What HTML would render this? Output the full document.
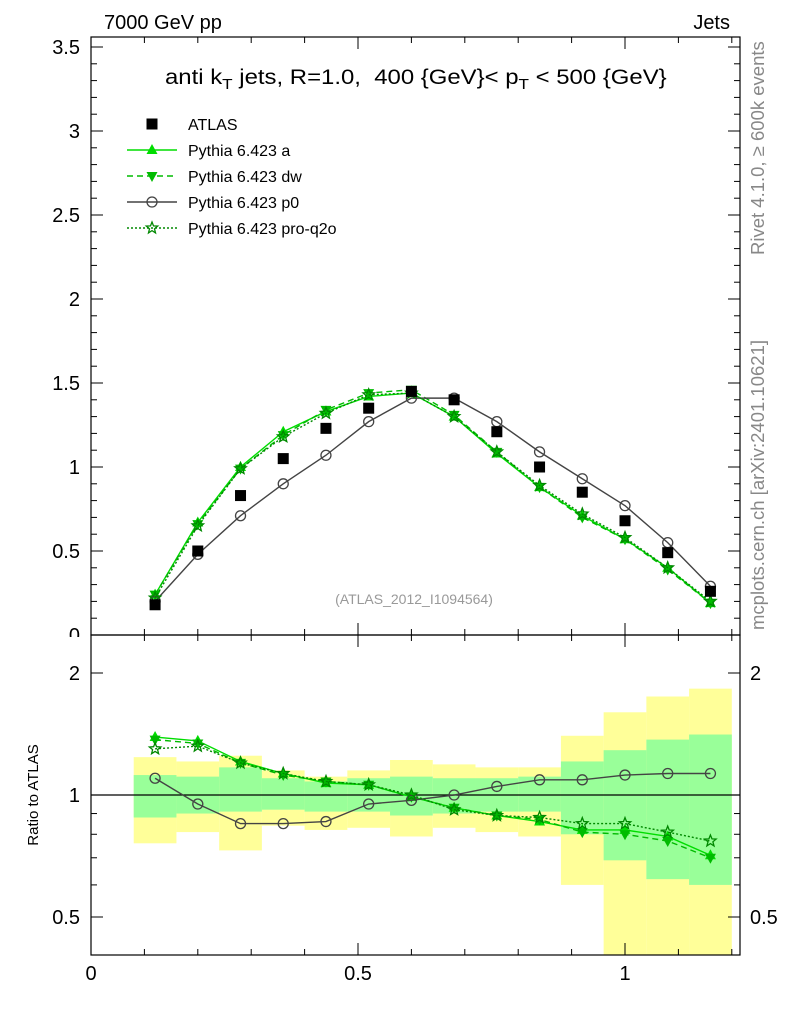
<!DOCTYPE html>
<html><head><meta charset="utf-8"><style>
body{margin:0;background:#fff;}
svg{font-family:"Liberation Sans",sans-serif;}
</style></head><body>
<svg id="c" width="786" height="1024" viewBox="0 0 786 1024" xmlns="http://www.w3.org/2000/svg">
<text x="104" y="29" font-size="20">7000 GeV pp</text>
<text x="730" y="29" font-size="20" text-anchor="end">Jets</text>
<text transform="translate(165,84) scale(1.14,1)" x="0" y="0" font-size="21" xml:space="preserve" style="white-space:pre">anti k<tspan font-size="15" dy="5">T</tspan><tspan dy="-5"> jets, R=1.0,  400 {GeV}&lt; p</tspan><tspan font-size="15" dy="5">T</tspan><tspan dy="-5"> &lt; 500 {GeV}</tspan></text>
<text x="414" y="604" font-size="14" fill="#999" text-anchor="middle">(ATLAS_2012_I1094564)</text>
<text transform="translate(764,255) rotate(-90)" font-size="18.5" fill="#888">Rivet 4.1.0, ≥ 600k events</text>
<text transform="translate(764,630) rotate(-90)" font-size="18.5" fill="#888">mcplots.cern.ch [arXiv:2401.10621]</text>
<text transform="translate(38,795) rotate(-90)" font-size="15" text-anchor="middle">Ratio to ATLAS</text>
<g id="g"></g>
</svg>
<script>
const xs=[0.12,0.2,0.28,0.36,0.44,0.52,0.6,0.68,0.76,0.84,0.92,1.0,1.08,1.16];
const atlas=[0.18,0.5,0.83,1.05,1.23,1.35,1.45,1.40,1.21,1.0,0.85,0.68,0.49,0.26];
const pa=[0.24,0.67,1.0,1.21,1.33,1.42,1.44,1.30,1.08,0.88,0.71,0.57,0.40,0.19];
const pdw=[0.24,0.66,0.99,1.19,1.34,1.44,1.46,1.31,1.09,0.88,0.70,0.57,0.39,0.19];
const pp0=[0.20,0.48,0.71,0.90,1.07,1.27,1.41,1.41,1.27,1.09,0.93,0.77,0.55,0.29];
const ppro=[0.22,0.65,0.99,1.18,1.32,1.43,1.44,1.30,1.09,0.89,0.72,0.58,0.40,0.20];
const ra=[1.39,1.36,1.21,1.13,1.07,1.06,0.99,0.93,0.89,0.86,0.82,0.82,0.79,0.71];
const rdw=[1.37,1.34,1.20,1.12,1.08,1.06,0.99,0.93,0.89,0.87,0.81,0.80,0.77,0.70];
const rp0=[1.10,0.95,0.85,0.85,0.86,0.95,0.97,1.0,1.05,1.09,1.09,1.12,1.13,1.13];
const rpro=[1.30,1.32,1.20,1.13,1.08,1.06,1.0,0.92,0.89,0.88,0.85,0.85,0.81,0.77];
const yUp=[1.24,1.21,1.25,1.15,1.11,1.15,1.22,1.19,1.17,1.17,1.40,1.60,1.75,1.83];
const yDn=[0.76,0.81,0.73,0.84,0.82,0.83,0.79,0.83,0.81,0.79,0.60,0.30,0.30,0.30];
const gUp=[1.12,1.11,1.17,1.10,1.08,1.10,1.11,1.10,1.10,1.11,1.21,1.29,1.37,1.41];
const gDn=[0.88,0.90,0.91,0.92,0.91,0.91,0.89,0.90,0.91,0.91,0.80,0.69,0.62,0.60];
const binW=0.08;
const xTicks=[0,0.5,1];const xTickLabels=["0","0.5","1"];
const yTicks=[0,0.5,1,1.5,2,2.5,3,3.5];const yTickLabels=["0","0.5","1","1.5","2","2.5","3","3.5"];
const rTicks=[0.5,1,2];const rTickLabels=["0.5","1","2"];

const L=91,R=740,T=37,M=635,B=955;
const X=v=>L+v*534;
const Y=v=>M-v*168;
const RY=v=>795-Math.log2(v)*122;
const NS="http://www.w3.org/2000/svg";
const g=document.getElementById('g');
function el(t,a,p){const e=document.createElementNS(NS,t);for(const k in a)e.setAttribute(k,a[k]);(p||g).appendChild(e);return e;}
const clipR=el('clipPath',{id:'cr'});el('rect',{x:L,y:M,width:R-L,height:B-M},clipR);
const clipY=el('clipPath',{id:'cy'});el('rect',{x:0,y:0,width:L,height:M+2},clipY);
const bands=el('g',{'clip-path':'url(#cr)'});

xs.forEach((x,i)=>{
 const r1=el('rect',{x:X(x-binW/2),y:RY(yUp[i]),width:X(binW)-L,height:RY(yDn[i])-RY(yUp[i]),fill:'#ffff99'},bands);
 
});
xs.forEach((x,i)=>{
 const r2=el('rect',{x:X(x-binW/2),y:RY(gUp[i]),width:X(binW)-L,height:RY(gDn[i])-RY(gUp[i]),fill:'#99ff99'},bands);
 
});
const one=el('line',{x1:L,x2:R,y1:RY(1),y2:RY(1),stroke:'#000','stroke-width':1.2});

[[T,M],[M,B]].forEach(([a,b],k)=>{const f=el('rect',{x:L,y:a,width:R-L,height:b-a,fill:'none',stroke:'#000','stroke-width':1.2});
 });
for(let v=0;v<=1.2001;v+=0.1){const big=Math.abs(v*2-Math.round(v*2))<1e-6;const h=big?12:6;
 [[T,1],[M,-1],[M,1],[B,-1]].forEach(([y0,d])=>el('line',{x1:X(v),x2:X(v),y1:y0,y2:y0+d*h,stroke:'#000'}));}
xTicks.forEach((v,i)=>{const t=el('text',{x:X(v),y:980,'font-size':20,'text-anchor':'middle'});t.textContent=xTickLabels[i];
 });
for(let v=0;v<=3.5501;v+=0.1){const big=Math.abs(v*2-Math.round(v*2))<1e-6;const h=big?12:6;
 el('line',{x1:L,x2:L+h,y1:Y(v),y2:Y(v),stroke:'#000'});el('line',{x1:R,x2:R-h,y1:Y(v),y2:Y(v),stroke:'#000'});}
const yl=el('g',{'clip-path':'url(#cy)'});
yTicks.forEach((v,i)=>{const t=el('text',{x:80,y:Y(v)+7,'font-size':20,'text-anchor':'end'},yl);t.textContent=yTickLabels[i];
 });
[0.5,0.6,0.7,0.8,0.9,1,2].forEach(v=>{const big=[0.5,1,2].includes(v);const h=big?12:6;
 el('line',{x1:L,x2:L+h,y1:RY(v),y2:RY(v),stroke:'#000'});el('line',{x1:R,x2:R-h,y1:RY(v),y2:RY(v),stroke:'#000'});});
rTicks.forEach((v,i)=>{const t=el('text',{x:80,y:RY(v)+7,'font-size':20,'text-anchor':'end'});t.textContent=rTickLabels[i];
 
 if(v!==1){const t2=el('text',{x:750,y:RY(v)+7,'font-size':20});t2.textContent=rTickLabels[i];
 }});
function marker(type,cx,cy,col,p){
 if(type==='sq')return el('rect',{x:cx-5.5,y:cy-5.5,width:11,height:11,fill:'#000'},p);
 if(type==='up')return el('polygon',{points:`${cx},${cy-6} ${cx-5.5},${cy+4} ${cx+5.5},${cy+4}`,fill:col},p);
 if(type==='dn')return el('polygon',{points:`${cx},${cy+6} ${cx-5.5},${cy-4} ${cx+5.5},${cy-4}`,fill:col},p);
 if(type==='o')return el('circle',{cx,cy,r:5,fill:'none',stroke:'#444','stroke-width':1.3},p);
 if(type==='st'){let pts=[];for(let k=0;k<10;k++){const a=-Math.PI/2+k*Math.PI/5,r=k%2?2.6:6;pts.push((cx+r*Math.cos(a)).toFixed(1)+','+(cy+r*Math.sin(a)).toFixed(1));}
  return el('polygon',{points:pts.join(' '),fill:'none',stroke:col,'stroke-width':1.3},p);}
}
const series=[
 {n:'pythia-a',m:pa,r:ra,c:'#00dd00',dash:'',t:'up',lab:'Pythia 6.423 a'},
 {n:'pythia-dw',m:pdw,r:rdw,c:'#00bb00',dash:'6,4',t:'dn',lab:'Pythia 6.423 dw'},
 {n:'pythia-p0',m:pp0,r:rp0,c:'#444',dash:'',t:'o',lab:'Pythia 6.423 p0'},
 {n:'pythia-pro-q2o',m:ppro,r:rpro,c:'#008800',dash:'2,2',t:'st',lab:'Pythia 6.423 pro-q2o'}];
series.forEach(s=>{
 [[s.m,Y,'main'],[s.r,RY,'ratio']].forEach(([arr,fy,pn])=>{
  const gg=el('g',{});
  el('polyline',{points:xs.map((x,i)=>X(x)+','+fy(arr[i])).join(' '),fill:'none',stroke:s.c,'stroke-width':1.4,'stroke-dasharray':s.dash},gg);
  xs.forEach((x,i)=>{const mk=marker(s.t,X(x),fy(arr[i]),s.c,gg);});
 });
});
const ga=el('g',{});
xs.forEach((x,i)=>{const mk=marker('sq',X(x),Y(atlas[i]),'#000',ga);});
const lg=el('g',{});
const items=[{t:'sq',c:'#000',dash:null,lab:'ATLAS'}].concat(series);
items.forEach((s,i)=>{const y=124+i*26;
 const e=el('g',{},lg);
 if(s.dash!==null)el('line',{x1:127,x2:177,y1:y,y2:y,stroke:s.c,'stroke-width':1.4,'stroke-dasharray':s.dash},e);
 marker(s.t,152,y,s.c,e);
 const t=el('text',{x:188,y:y+6,'font-size':16},e);t.textContent=s.lab;});
</script>
</body></html>
